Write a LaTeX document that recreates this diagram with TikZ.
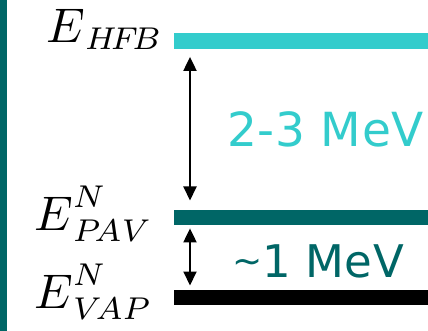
\documentclass[tikz,border=0pt]{standalone}
\usepackage{fontspec}
\setsansfont{DejaVu Sans}
\usetikzlibrary{arrows.meta}
\definecolor{tealdark}{HTML}{006666}
\definecolor{cyanlight}{HTML}{33CCCC}
\newcommand{\bigE}{\scalebox{1.08}{$E$}}
\begin{document}
\begin{tikzpicture}[x=1pt,y=-1pt,
  level/.style={draw=none,rectangle,inner sep=0pt,minimum width=254pt,minimum height=15.5pt,anchor=north west},
  elabel/.style={anchor=base west,inner sep=0pt},
  gaplabel/.style={anchor=base west,inner sep=0pt},
  gap/.style={{Triangle[length=14pt,width=13pt]}-{Triangle[length=14pt,width=13pt]},line width=2pt,black}]
  \useasboundingbox (0,0) rectangle (428,331);
  % left margin stripe
  \fill[tealdark] (0,0) rectangle (7,331);
  % energy levels
  \node[level,fill=cyanlight] (hfb) at (174,33) {};
  \node[level,fill=tealdark] (pav) at (174,209.5) {};
  \node[level,fill=black] (vap) at (174,289.5) {};
  % level labels
  \node[elabel] (lhfb) at (46,43) {\scalebox{4.5}{$\bigE_{H\!F\!B}$}};
  \node[elabel] (lpav) at (34,230) {\scalebox{4.5}{$\bigE^N_{P\!AV}$}};
  \node[elabel] (lvap) at (34,308) {\scalebox{4.5}{$\bigE^N_{V\!AP}$}};
  % energy gaps
  \draw[gap] ([xshift=16pt,yshift=-8pt]hfb.south west) -- ([xshift=16pt,yshift=9pt]pav.north west);
  \draw[gap] ([xshift=16pt,yshift=-3pt]pav.south west) -- ([xshift=16pt,yshift=4pt]vap.north west);
  \node[gaplabel,text=cyanlight,font=\sffamily\fontsize{47}{52}\selectfont\addfontfeature{LetterSpace=1.5}] (g1) at (227,147) {2-3 MeV};
  \node[gaplabel,text=tealdark,font=\sffamily\fontsize{45}{50}\selectfont\addfontfeature{LetterSpace=1}] (g2) at (232,277) {\raisebox{4pt}{\fontsize{36}{40}\selectfont\char`\~}1 MeV};
\end{tikzpicture}
\end{document}
